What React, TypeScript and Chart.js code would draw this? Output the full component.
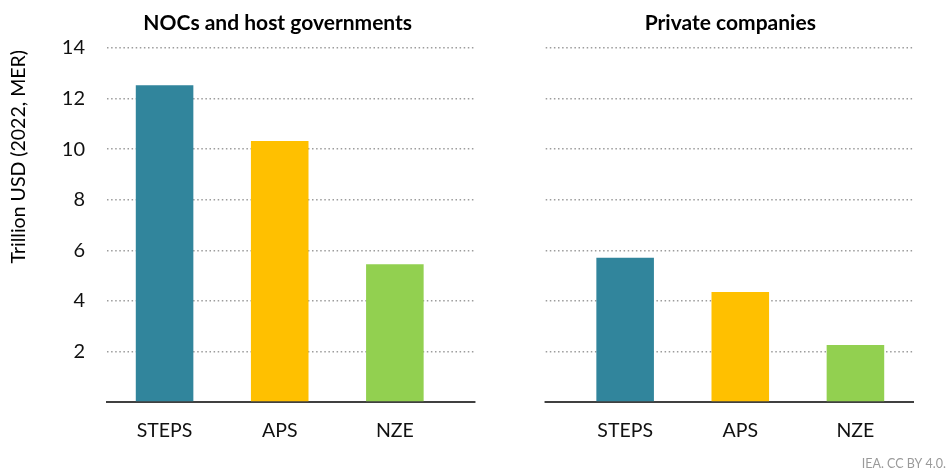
import React, { useEffect, useRef } from "react";
import { Chart, registerables } from "chart.js";

Chart.register(...registerables);

const categories = ["STEPS", "APS", "NZE", "", "STEPS", "APS", "NZE"];
const nocValues = [12.53, 10.32, 5.45];
const privateValues = [5.7, 4.35, 2.25];
const barColors = ["#31859c", "#ffc000", "#92d050"];
const panelTitles = ["NOCs and host governments", "Private companies"];
const yTicks = [0, 2, 4, 6, 8, 10, 12, 14];
const yTitle = "Trillion USD (2022, MER)";
const footer = "IEA. CC BY 4.0.";

const FONT = "Lato, 'Open Sans', sans-serif";

export default function App() {
  const ref = useRef<HTMLCanvasElement | null>(null);

  useEffect(() => {
    document.body.style.margin = "0";
    const canvas = ref.current;
    if (!canvas) return;

    const values = [...nocValues, null, ...privateValues];
    const colors = [...barColors, "transparent", ...barColors];

    const overlay = {
      id: "overlay",
      beforeDatasetsDraw(chart: any) {
        const { ctx, chartArea, scales } = chart;
        const x = scales.x;
        const w = x.getPixelForValue(1) - x.getPixelForValue(0);
        const cx = x.getPixelForValue(3);
        ctx.save();
        ctx.fillStyle = "#ffffff";
        ctx.fillRect(cx - w * 0.3, chartArea.top - 6, w * 0.6, chartArea.bottom - chartArea.top + 10);
        ctx.restore();
      },
      afterDraw(chart: any) {
        const { ctx, chartArea, scales } = chart;
        const x = scales.x;
        const y = scales.y;
        ctx.save();
        ctx.fillStyle = "#000000";
        ctx.font = `bold 21px ${FONT}`;
        ctx.textAlign = "center";
        ctx.textBaseline = "middle";
        ctx.fillText(panelTitles[0], x.getPixelForValue(1) - 2, chartArea.top - 25);
        ctx.fillText(panelTitles[1], x.getPixelForValue(5) - 10, chartArea.top - 25);

        ctx.font = `19.5px ${FONT}`;
        ctx.fillStyle = "#000000";
        ctx.translate(19, y.getPixelForValue(9.7));
        ctx.rotate(-Math.PI / 2);
        ctx.fillText(yTitle, 0, 0);
        ctx.restore();

        ctx.save();
        ctx.font = `12.5px ${FONT}`;
        ctx.fillStyle = "#9a9a9a";
        ctx.textAlign = "right";
        ctx.textBaseline = "middle";
        ctx.fillText(footer, chart.width - 2, chart.height - 12);
        ctx.restore();
      },
    };

    const chart = new Chart(canvas, {
      type: "bar",
      data: {
        labels: categories,
        datasets: [
          {
            data: values as any,
            backgroundColor: colors,
            borderWidth: 0,
            categoryPercentage: 1,
            barPercentage: 0.5,
          },
        ],
      },
      options: {
        animation: false,
        responsive: false,
        layout: { padding: { left: 0, right: 35, top: 48, bottom: 0 } },
        plugins: {
          legend: { display: false },
          tooltip: { enabled: false },
          title: { display: false },
        },
        scales: {
          x: {
            grid: { display: false },
            border: { display: true, color: "#404040", width: 2 },
            ticks: {
              color: "#111111",
              font: { family: FONT, size: 19.5 },
              padding: 9,
              maxRotation: 0,
              autoSkip: false,
            },
            afterFit(s: any) {
              s.height = 74;
            },
          },
          y: {
            min: 0,
            max: 14,
            afterBuildTicks(s: any) {
              s.ticks = yTicks.map((v) => ({ value: v }));
            },
            grid: {
              color: (c: any) => (c.tick && c.tick.value === 0 ? "transparent" : "#9c9c9c"),
              lineWidth: 1.5,
              drawTicks: false,
            },
            border: { display: false, dash: [1.5, 2.6] },
            ticks: {
              color: "#111111",
              font: { family: FONT, size: 20 },
              padding: 22,
              callback: (v: any) => (v === 0 ? "" : String(v)),
            },
            afterFit(s: any) {
              s.width = 107;
            },
          },
        },
      } as any,
      plugins: [overlay],
    });

    return () => chart.destroy();
  }, []);

  return <canvas ref={ref} width={948} height={476} style={{ display: "block" }} />;
}
